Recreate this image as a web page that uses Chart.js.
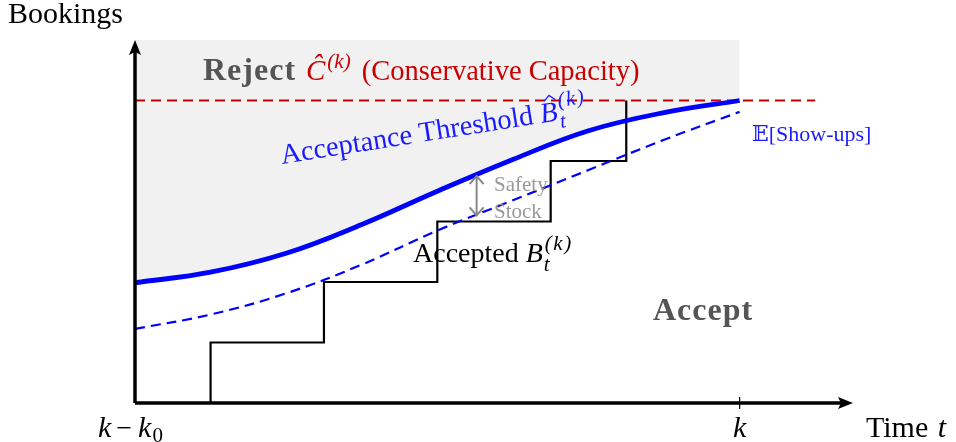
<!DOCTYPE html>
<html>
<head>
<meta charset="utf-8">
<script src="https://cdn.jsdelivr.net/npm/chart.js@4/dist/chart.umd.min.js"></script>
<style>
  html, body { margin: 0; padding: 0; background: #fff; }
  #wrap { width: 956px; height: 442px; }
</style>
</head>
<body>
<div id="wrap"><canvas id="bookchart"></canvas></div>
<script>
// time grid (k - k0 = 0, k = 8) and curves
var timeX      = [0, 1, 2, 3, 4, 5, 6, 7, 8];
var threshold  = [1.59, 1.73, 1.98, 2.36, 2.80, 3.22, 3.60, 3.84, 4.0];
var showUps    = [0.98, 1.17, 1.45, 1.83, 2.28, 2.68, 3.08, 3.48, 3.85];
var capacity   = 4.0;
var capacityX  = [0, 9.0];
// accepted bookings: jump times and levels
var jumpTimes  = [1, 2.5, 4, 5.5, 6.5];
var jumpLevels = [0.8, 1.6, 2.4, 3.2, 4.0];
var kTick = 8;

function pts(xs, ys) {
  return xs.map(function(x, i){ return {x: x, y: ys[i]}; });
}
var stepPts = [{x: jumpTimes[0], y: 0}];
jumpTimes.forEach(function(t, i){
  stepPts.push({x: t, y: jumpLevels[i]});
  if (i + 1 < jumpTimes.length) stepPts.push({x: jumpTimes[i+1], y: jumpLevels[i]});
});

var SERIF = '"Liberation Serif", "DejaVu Serif", "DejaVu Sans", serif';

function runs(ctx, x, y, parts) {
  parts.forEach(function(p){
    ctx.font = p.f;
    ctx.fillStyle = p.c;
    ctx.letterSpacing = (p.ls || 0) + 'px';
    ctx.fillText(p.t, x + (p.dx || 0), y + (p.dy || 0));
    x += ctx.measureText(p.t).width + (p.dx || 0);
    ctx.letterSpacing = '0px';
  });
  return x;
}

function hat(ctx, cx, y, w, h, color) {
  ctx.strokeStyle = color; ctx.lineWidth = 1.3;
  ctx.beginPath();
  ctx.moveTo(cx - w / 2, y + h); ctx.lineTo(cx, y); ctx.lineTo(cx + w / 2, y + h);
  ctx.stroke();
}

var decor = {
  id: 'decor',
  afterDatasetsDraw: function(chart) {
    var ctx = chart.ctx, xs = chart.scales.x, ys = chart.scales.y;
    var x0 = xs.getPixelForValue(0), y0 = ys.getPixelForValue(0);
    var xe = xs.getPixelForValue(9.5), ye = ys.getPixelForValue(4.8);
    ctx.save();
    // axes
    ctx.strokeStyle = '#000'; ctx.fillStyle = '#000'; ctx.lineWidth = 3.5;
    ctx.beginPath();
    ctx.moveTo(x0, y0); ctx.lineTo(xe - 8, y0);
    ctx.moveTo(x0, y0); ctx.lineTo(x0, ye + 8);
    ctx.stroke();
    ctx.beginPath();
    ctx.moveTo(xe, y0); ctx.lineTo(xe - 15, y0 - 6); ctx.lineTo(xe - 12, y0); ctx.lineTo(xe - 15, y0 + 6); ctx.closePath();
    ctx.fill();
    ctx.beginPath();
    ctx.moveTo(x0, ye); ctx.lineTo(x0 - 6, ye + 15); ctx.lineTo(x0, ye + 12); ctx.lineTo(x0 + 6, ye + 15); ctx.closePath();
    ctx.fill();
    // tick at k
    var xk = xs.getPixelForValue(kTick);
    ctx.lineWidth = 1.2;
    ctx.beginPath(); ctx.moveTo(xk, y0 - 6); ctx.lineTo(xk, y0 + 6); ctx.stroke();

    // safety stock arrow
    var xa = xs.getPixelForValue(4.52);
    var ya1 = ys.getPixelForValue(3.0), ya2 = ys.getPixelForValue(2.48);
    ctx.strokeStyle = '#888'; ctx.lineWidth = 2;
    ctx.beginPath();
    ctx.moveTo(xa, ya1); ctx.lineTo(xa, ya2);
    ctx.moveTo(xa - 7, ya1 + 8); ctx.lineTo(xa, ya1); ctx.lineTo(xa + 7, ya1 + 8);
    ctx.moveTo(xa - 7, ya2 - 8); ctx.lineTo(xa, ya2); ctx.lineTo(xa + 7, ya2 - 8);
    ctx.stroke();

    ctx.textBaseline = 'alphabetic';
    ctx.textAlign = 'left';
    runs(ctx, 8, 23, [{t: 'Bookings', f: '30px ' + SERIF, c: '#000'}]);
    runs(ctx, 203, 80, [
      {t: 'Reject', f: 'bold 32px ' + SERIF, c: '#555', ls: 1},
      {t: 'Ĉ', f: 'italic 29px ' + SERIF, c: '#c00', dx: 10},
      {t: '(k)', f: 'italic 21px ' + SERIF, c: '#c00', dy: -12, dx: 2},
      {t: '(Conservative Capacity)', f: '28.5px ' + SERIF, c: '#c00', dx: 11}
    ]);
    runs(ctx, 752, 141, [{t: '𝔼[Show-ups]', f: '22px ' + SERIF, c: '#1a1aff'}]);
    runs(ctx, 494, 191, [{t: 'Safety', f: '21px ' + SERIF, c: '#999'}]);
    runs(ctx, 494, 218, [{t: 'Stock', f: '21px ' + SERIF, c: '#999'}]);
    var xb = runs(ctx, 413, 262, [
      {t: 'Accepted ', f: '28px ' + SERIF, c: '#000'},
      {t: 'B', f: 'italic 28px ' + SERIF, c: '#000'}
    ]);
    runs(ctx, xb + 1, 271, [{t: 't', f: 'italic 21px ' + SERIF, c: '#000'}]);
    runs(ctx, xb + 2, 250, [{t: '(k)', f: 'italic 21px ' + SERIF, c: '#000', ls: 1.5}]);
    runs(ctx, 653, 320, [{t: 'Accept', f: 'bold 32px ' + SERIF, c: '#555', ls: 1}]);

    // bottom labels
    runs(ctx, 98, 437, [
      {t: 'k', f: 'italic 30px ' + SERIF, c: '#000'},
      {t: '−', f: '28px ' + SERIF, c: '#000', dx: 5},
      {t: 'k', f: 'italic 30px ' + SERIF, c: '#000', dx: 6},
      {t: '0', f: '21px ' + SERIF, c: '#000', dy: 5, dx: 1}
    ]);
    ctx.font = 'italic 30px ' + SERIF; ctx.fillStyle = '#000';
    ctx.textAlign = 'center';
    ctx.fillText('k', xk, 437);
    ctx.textAlign = 'left';
    runs(ctx, 866, 437, [
      {t: 'Time ', f: '30px ' + SERIF, c: '#000'},
      {t: 't', f: 'italic 30px ' + SERIF, c: '#000', dx: 2}
    ]);

    // sloped threshold label
    ctx.save();
    ctx.translate(282, 164);
    ctx.rotate(-9 * Math.PI / 180);
    var xt = runs(ctx, 0, 0, [
      {t: 'Acceptance Threshold ', f: '28.5px ' + SERIF, c: '#1a1aff'}
    ]);
    var xB = runs(ctx, xt, 0, [{t: 'B', f: 'italic 28.5px ' + SERIF, c: '#1a1aff'}]);
    hat(ctx, (xt + xB) / 2 + 3, -26, 11, 5, '#1a1aff');
    runs(ctx, xB + 1, 8, [{t: 't', f: 'italic 21px ' + SERIF, c: '#1a1aff'}]);
    runs(ctx, xB + 2, -13, [{t: '(k)', f: 'italic 21px ' + SERIF, c: '#1a1aff', ls: 1.5}]);
    ctx.restore();

    ctx.restore();
  }
};

new Chart(document.getElementById('bookchart'), {
  type: 'line',
  data: {
    datasets: [{
      label: 'Acceptance threshold',
      data: pts(timeX, threshold),
      borderColor: '#0000ff',
      borderWidth: 4.8,
      tension: 0.4,
      fill: 'end',
      backgroundColor: '#f1f1f1',
      order: 0
    }, {
      label: 'E[Show-ups]',
      data: pts(timeX, showUps),
      borderColor: '#0000ff',
      borderWidth: 2.2,
      borderDash: [10, 6],
      tension: 0.4,
      fill: false,
      order: 1
    }, {
      label: 'Accepted',
      data: stepPts,
      borderColor: '#000',
      borderWidth: 2.2,
      tension: 0,
      fill: false,
      order: 2
    }, {
      label: 'Capacity',
      data: capacityX.map(function(x){ return {x: x, y: capacity}; }),
      borderColor: '#c00000',
      borderWidth: 2.2,
      borderDash: [10, 6],
      fill: false,
      order: 3
    }]
  },
  options: {
    responsive: true,
    maintainAspectRatio: false,
    animation: false,
    layout: { padding: { left: 135, right: 103, top: 40, bottom: 39 } },
    elements: { point: { radius: 0 } },
    scales: {
      x: { type: 'linear', min: 0, max: 9.5, display: false },
      y: { type: 'linear', min: 0, max: 4.8, display: false }
    },
    plugins: {
      legend: { display: false },
      tooltip: { enabled: false },
      filler: { drawTime: 'beforeDatasetsDraw' }
    }
  },
  plugins: [decor]
});
</script>
</body>
</html>
